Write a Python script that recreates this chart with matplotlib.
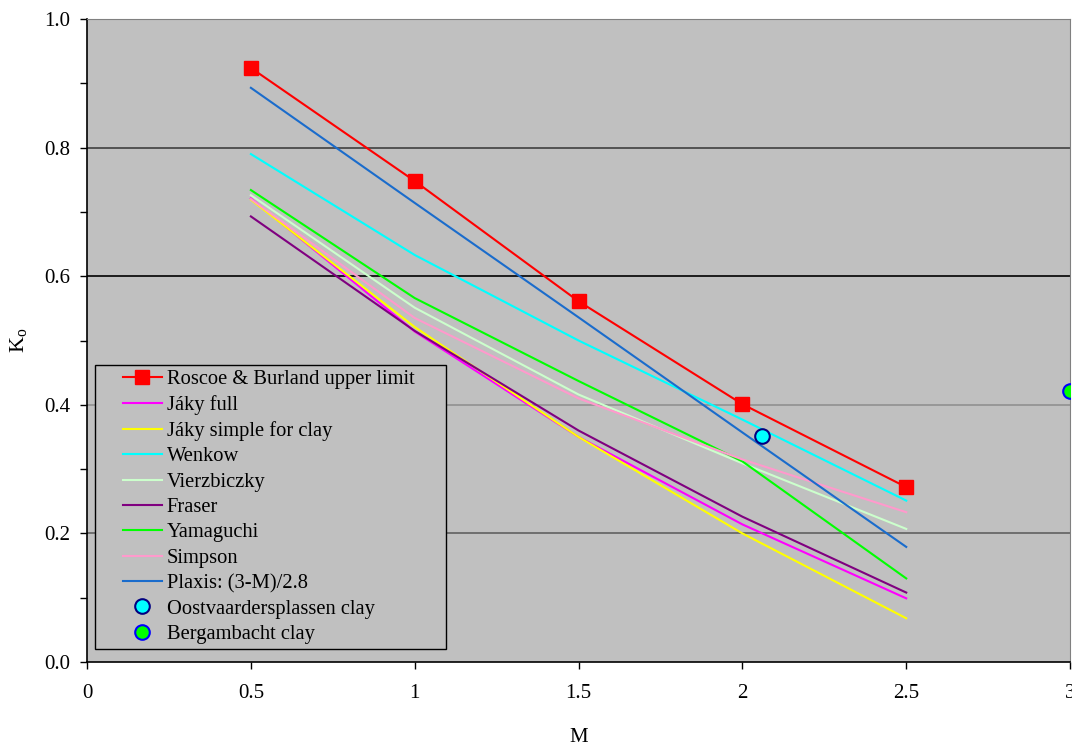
import matplotlib
matplotlib.use("Agg")
import matplotlib.pyplot as plt
from matplotlib.legend_handler import HandlerLine2D

plt.rcParams['font.family'] = ['Liberation Serif', 'DejaVu Serif']
plt.rcParams['mathtext.fontset'] = 'custom'
plt.rcParams['mathtext.rm'] = 'Liberation Serif'
plt.rcParams['mathtext.it'] = 'Liberation Serif'

# K0 correlations against the critical-state slope M
m_vals = [0.5, 1.0, 1.5, 2.0, 2.5]
roscoe_burland = [0.924, 0.748, 0.561, 0.401, 0.272]
jaky_full = [0.721, 0.514, 0.350, 0.214, 0.099]
jaky_simple = [0.719, 0.521, 0.350, 0.200, 0.068]
wenkow = [0.790, 0.633, 0.500, 0.377, 0.251]
vierzbiczky = [0.726, 0.551, 0.416, 0.309, 0.207]
fraser = [0.693, 0.515, 0.360, 0.226, 0.108]
yamaguchi = [0.734, 0.566, 0.437, 0.312, 0.130]
simpson = [0.720, 0.535, 0.410, 0.315, 0.233]
plaxis = [0.893, 0.714, 0.536, 0.357, 0.179]

# measured clays
oostvaardersplassen_m, oostvaardersplassen_k = [2.06], [0.351]
bergambacht_m, bergambacht_k = [3.0], [0.421]


class ShiftedLine(HandlerLine2D):
    """Legend sample that leaves a blank gap on its left side."""
    def create_artists(self, legend, orig_handle, xdescent, ydescent,
                       width, height, fontsize, trans):
        shift = 1.1 * fontsize
        return super().create_artists(legend, orig_handle, xdescent - shift, ydescent,
                                      width - shift, height, fontsize, trans)


fig = plt.figure(figsize=(10.72, 7.46), dpi=100)
ax = fig.add_axes([0.0812, 0.1126, 0.917, 0.8619])
ax.set_facecolor('#C0C0C0')

lw = 1.5
ax.plot(m_vals, roscoe_burland, color='#FF0000', lw=lw, marker='s', ms=10.5,
        mfc='#FF0000', mec='#FF0000', label='Roscoe & Burland upper limit', zorder=5)
ax.plot(m_vals, jaky_full, color='#FF00FF', lw=lw, label='Jáky full')
ax.plot(m_vals, jaky_simple, color='#FFFF00', lw=lw, label='Jáky simple for clay')
ax.plot(m_vals, wenkow, color='#00FFFF', lw=lw, label='Wenkow')
ax.plot(m_vals, vierzbiczky, color='#CCFFCC', lw=lw, label='Vierzbiczky')
ax.plot(m_vals, fraser, color='#800080', lw=lw, label='Fraser')
ax.plot(m_vals, yamaguchi, color='#00FF00', lw=lw, label='Yamaguchi')
ax.plot(m_vals, simpson, color='#FF99CC', lw=lw, label='Simpson')
ax.plot(m_vals, plaxis, color='#1A6CCC', lw=lw, label='Plaxis: (3-M)/2.8')
ax.plot(oostvaardersplassen_m, oostvaardersplassen_k, ls='none', marker='o', ms=10.5,
        mfc='#00FFFF', mec='#000080', mew=1.5, label='Oostvaardersplassen clay', zorder=6)
ax.plot(bergambacht_m, bergambacht_k, ls='none', marker='o', ms=10.5,
        mfc='#00FF00', mec='#0000FF', mew=1.5, label='Bergambacht clay', zorder=6)

ax.set_xlim(0, 3)
ax.set_ylim(0, 1)
ax.set_xticks([0, 0.5, 1, 1.5, 2, 2.5, 3])
ax.set_xticklabels(['0', '0.5', '1', '1.5', '2', '2.5', '3'])
ax.set_yticks([0, 0.2, 0.4, 0.6, 0.8, 1.0])
ax.set_yticklabels(['0.0', '0.2', '0.4', '0.6', '0.8', '1.0'])
ax.set_yticks([0.1, 0.3, 0.5, 0.7, 0.9], minor=True)
ax.tick_params(axis='both', which='major', direction='out', length=5, width=1,
               labelsize=15, pad=7)
ax.tick_params(axis='x', which='major', pad=11)
ax.tick_params(axis='y', which='minor', direction='out', length=5, width=1)

# horizontal gridlines
for yv, c in [(0.2, '#606060'), (0.4, '#909090'), (0.6, '#000000'), (0.8, '#404040')]:
    ax.axhline(yv, color=c, lw=1.2, zorder=1)

for side in ('top', 'right'):
    ax.spines[side].set_color('#808080')
ax.spines['left'].set_linewidth(1.2)
ax.spines['bottom'].set_linewidth(1.2)

ax.set_xlabel('M', fontsize=15, labelpad=18)
ax.set_ylabel('K$_\\mathrm{o}$', fontsize=16, labelpad=11)

leg = ax.legend(loc='lower left', bbox_to_anchor=(0.0081, 0.0202, 0.357, 0.0),
                mode='expand', fontsize=14.8, handler_map={plt.Line2D: ShiftedLine()},
                frameon=True, fancybox=False, facecolor='#C0C0C0', edgecolor='black',
                framealpha=1, borderaxespad=0, labelspacing=0.29, handlelength=3.0,
                handletextpad=0.25, borderpad=0.25)
leg.get_frame().set_linewidth(1)

fig.savefig('out.png', dpi=100)
